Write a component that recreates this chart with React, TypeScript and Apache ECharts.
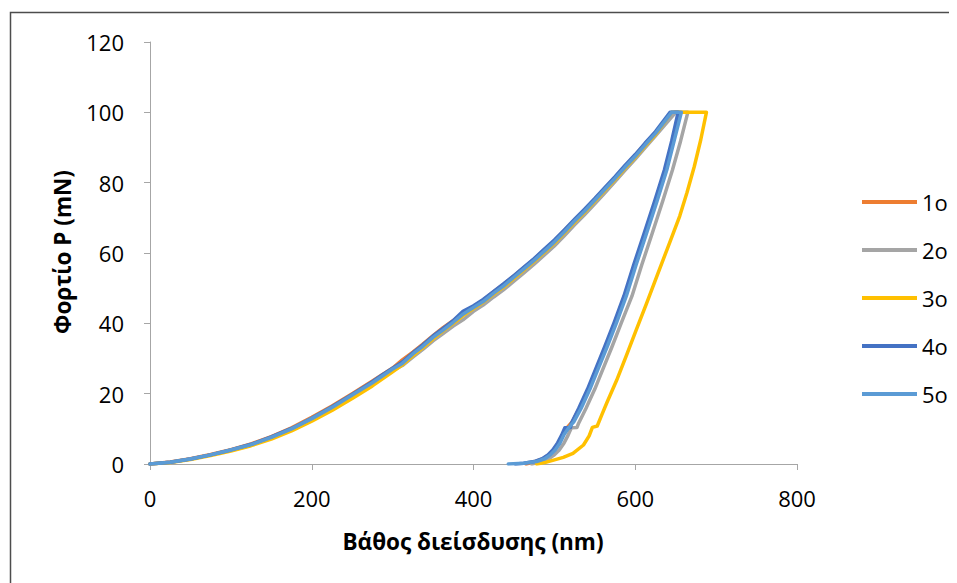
import React, { useEffect, useRef } from "react";
import * as echarts from "echarts";

type P = [number, number];

const seriesNames = ["1o", "2o", "3o", "4o", "5o"];
const seriesColors = ["#ED7D31", "#A5A5A5", "#FFC000", "#4472C4", "#5B9BD5"];

const xTicks = [0, 200, 400, 600, 800];
const yTicks = [0, 20, 40, 60, 80, 100, 120];

// Each curve: loading, hold at peak, unloading (depth nm, load mN)
const curve1: P[] = [
  [0, 0], [25, 0.6], [50, 1.5], [75, 2.7], [100, 4.1], [125, 5.7], [150, 7.8], [175, 10.3],
  [200, 13.3], [225, 16.5], [250, 20.0], [275, 23.6], [300, 27.3], [312, 29.6], [325, 31.8],
  [337, 34.0], [350, 36.5], [362, 38.7], [375, 40.8], [387, 42.9], [400, 44.8], [412, 46.6],
  [425, 49.0], [437, 51.1], [450, 53.5], [462, 55.8], [475, 58.3], [487, 60.8], [500, 63.5],
  [512, 66.3], [525, 69.4], [537, 72.1], [550, 75.3], [562, 78.3], [575, 81.5], [587, 84.6],
  [600, 87.8], [612, 91.0], [625, 94.3], [648, 100],
  [655, 100], [647, 91.8], [638, 83.6], [626, 74.8], [612, 65.6], [599, 56.6], [587, 47.8],
  [575, 40.3], [563, 33.2], [552, 27], [542, 21.3], [531, 15.8], [522, 12], [516, 10.4],
  [510, 8.2], [505, 6], [499, 4], [493, 2.6], [486, 1.5], [476, 0.7], [465, 0],
];

const curve2: P[] = [
  [0, 0], [25, 0.5], [50, 1.4], [75, 2.6], [100, 3.9], [125, 5.4], [150, 7.5], [175, 10.0],
  [200, 13.0], [225, 16.0], [250, 19.4], [275, 22.8], [300, 26.5], [312, 28.0], [325, 30.4],
  [337, 32.5], [350, 35.0], [362, 37.0], [375, 39.2], [387, 41.0], [400, 43.4], [412, 45.2],
  [425, 47.5], [437, 49.5], [450, 52.0], [462, 54.3], [475, 56.8], [487, 59.3], [500, 62.0],
  [512, 64.8], [525, 68.0], [537, 70.8], [550, 74.0], [562, 77.0], [575, 80.3], [587, 83.4],
  [600, 86.7], [612, 89.9], [625, 93.3], [650, 100],
  [665, 100], [656, 91.8], [646, 83.6], [634, 74.8], [621, 65.6], [608, 56.6], [596, 47.8],
  [583, 40.3], [571, 33.2], [560, 27], [550, 21.3], [539, 15.8], [530, 11.6], [528, 10.4],
  [521, 10.3], [517, 8.2], [512, 6], [506, 4], [500, 2.6], [493, 1.5], [484, 0.7], [472, 0],
];

const curve3: P[] = [
  [0, 0], [25, 0.4], [50, 1.3], [75, 2.4], [100, 3.7], [125, 5.2], [150, 7.1], [175, 9.4],
  [200, 12.2], [225, 15.2], [250, 18.6], [275, 22.2], [300, 26.2], [312, 28.2], [325, 30.8],
  [337, 33.0], [350, 35.6], [362, 37.8], [375, 40.0], [387, 42.2], [400, 44.2], [412, 46.0],
  [425, 48.3], [437, 50.3], [450, 52.8], [462, 55.1], [475, 57.6], [487, 60.1], [500, 62.8],
  [512, 65.6], [525, 68.7], [537, 71.5], [550, 74.7], [562, 77.7], [575, 80.9], [587, 84.0],
  [600, 87.2], [612, 90.4], [625, 93.7], [645, 100],
  [688, 100], [681, 92.2], [673, 84.6], [664, 77.2], [655, 70.5], [640, 61.4], [627, 53.6],
  [614, 45.7], [601, 38], [589, 30.8], [577, 23.8], [565, 17.5], [559, 14.2], [553, 10.8],
  [547, 10.4], [543, 8], [536, 5.4], [523, 3], [511, 1.9], [499, 1.1], [488, 0.4], [478, 0],
];

const curve4: P[] = [
  [0, 0], [25, 0.5], [50, 1.4], [75, 2.6], [100, 4.0], [125, 5.6], [150, 7.7], [175, 10.1],
  [200, 13.0], [225, 16.3], [250, 19.8], [275, 23.4], [287, 25.3], [300, 27.2], [312, 29.0],
  [325, 31.6], [337, 33.8], [350, 36.4], [362, 38.5], [375, 40.8], [387, 43.4], [400, 45.0],
  [412, 46.8], [425, 49.1], [437, 51.2], [450, 53.6], [462, 55.9], [475, 58.4], [487, 61.0],
  [500, 63.7], [512, 66.5], [525, 69.6], [537, 72.4], [550, 75.5], [562, 78.5], [575, 81.7],
  [587, 84.8], [600, 88.0], [612, 91.2], [625, 94.5], [643, 100],
  [653, 100], [645, 91.8], [636, 83.6], [624, 74.8], [611, 65.6], [598, 56.6], [586, 47.8],
  [574, 40.3], [562, 33.2], [551, 27], [541, 21.3], [530, 15.8], [521, 11.6], [520, 10.4],
  [513, 10.3], [509, 8.2], [504, 6], [498, 4], [492, 2.6], [485, 1.5], [475, 0.7], [462, 0.2],
  [452, 0],
];

const curve5: P[] = [
  [0, 0], [25, 0.5], [50, 1.4], [75, 2.6], [100, 4.0], [125, 5.5], [150, 7.6], [175, 10.0],
  [200, 12.9], [225, 16.1], [250, 19.6], [275, 23.1], [300, 27.0], [312, 28.6], [325, 31.3],
  [337, 33.4], [350, 36.0], [362, 38.0], [375, 40.3], [387, 42.6], [400, 44.5], [412, 46.2],
  [425, 48.6], [437, 50.6], [450, 53.1], [462, 55.4], [475, 57.9], [487, 60.4], [500, 63.1],
  [512, 65.9], [525, 69.1], [537, 71.8], [550, 75.0], [562, 78.0], [575, 81.2], [587, 84.3],
  [600, 87.5], [612, 90.7], [625, 94.0], [645, 100],
  [657, 100], [648, 91.8], [639, 83.6], [627, 74.8], [614, 65.6], [601, 56.6], [589, 47.8],
  [577, 40.3], [565, 33.2], [554, 27], [544, 21.3], [533, 15.8], [524, 12], [518, 10.4],
  [512, 8.4], [507, 6], [501, 4], [495, 2.6], [488, 1.5], [478, 0.7], [462, 0.2], [443, 0],
];

const curves = [curve1, curve2, curve3, curve4, curve5];

const FONT = "'Open Sans', 'Noto Sans', sans-serif";

export default function App() {
  const ref = useRef<HTMLDivElement>(null);
  useEffect(() => {
    if (!ref.current) return;
    const chart = echarts.init(ref.current, null, { renderer: "svg" });
    chart.setOption({
      animation: false,
      backgroundColor: "#ffffff",
      textStyle: { fontFamily: FONT },
      grid: { left: 150, top: 42, right: 160, bottom: 119, containLabel: false },
      xAxis: {
        type: "value",
        min: xTicks[0],
        max: xTicks[xTicks.length - 1],
        interval: 200,
        splitLine: { show: false },
        axisLine: { show: true, lineStyle: { color: "#A6A6A6", width: 1 } },
        axisTick: { show: true, inside: false, length: 6, lineStyle: { color: "#A6A6A6" } },
        axisLabel: { color: "#000", fontSize: 22, fontFamily: FONT, margin: 23 },
      },
      yAxis: {
        type: "value",
        min: yTicks[0],
        max: yTicks[yTicks.length - 1],
        interval: 20,
        splitLine: { show: false },
        axisLine: { show: true, lineStyle: { color: "#A6A6A6", width: 1 } },
        axisTick: { show: true, inside: false, length: 6, lineStyle: { color: "#A6A6A6" } },
        axisLabel: { color: "#000", fontSize: 22, fontFamily: FONT, margin: 26 },
      },
      legend: {
        orient: "vertical",
        left: 857,
        top: 186,
        itemWidth: 55,
        itemHeight: 4,
        itemGap: 26,
        icon: "rect",
        textStyle: { fontSize: 22, color: "#000", fontFamily: FONT, padding: [0, 0, 0, 0] },
        data: seriesNames,
      },
      graphic: [
        {
          type: "rect",
          shape: { x: 10.5, y: 12.5, width: 1200, height: 1200 },
          style: { fill: "none", stroke: "#4d4d4d", lineWidth: 1.5 },
          silent: true,
        },
        {
          type: "text",
          x: 62,
          y: 252,
          rotation: Math.PI / 2,
          style: {
            text: "Φορτίο P (mN)",
            fontSize: 22.5,
            fontWeight: "bold",
            fontFamily: FONT,
            fill: "#000",
            textAlign: "center",
            textVerticalAlign: "middle",
          },
        },
        {
          type: "text",
          x: 473,
          y: 541,
          style: {
            text: "Βάθος διείσδυσης (nm)",
            fontSize: 22.5,
            fontWeight: "bold",
            fontFamily: FONT,
            fill: "#000",
            textAlign: "center",
            textVerticalAlign: "middle",
          },
        },
      ],
      series: curves.map((c, i) => ({
        name: seriesNames[i],
        type: "line",
        data: c,
        showSymbol: false,
        symbol: "none",
        smooth: false,
        color: seriesColors[i],
        lineStyle: { color: seriesColors[i], width: 3.5, cap: "round", join: "round" },
        emphasis: { disabled: true },
        z: 2 + i,
      })),
    });
    return () => chart.dispose();
  }, []);
  return <div ref={ref} style={{ width: 957, height: 583, marginLeft: -8, marginTop: -8 }} />;
}
